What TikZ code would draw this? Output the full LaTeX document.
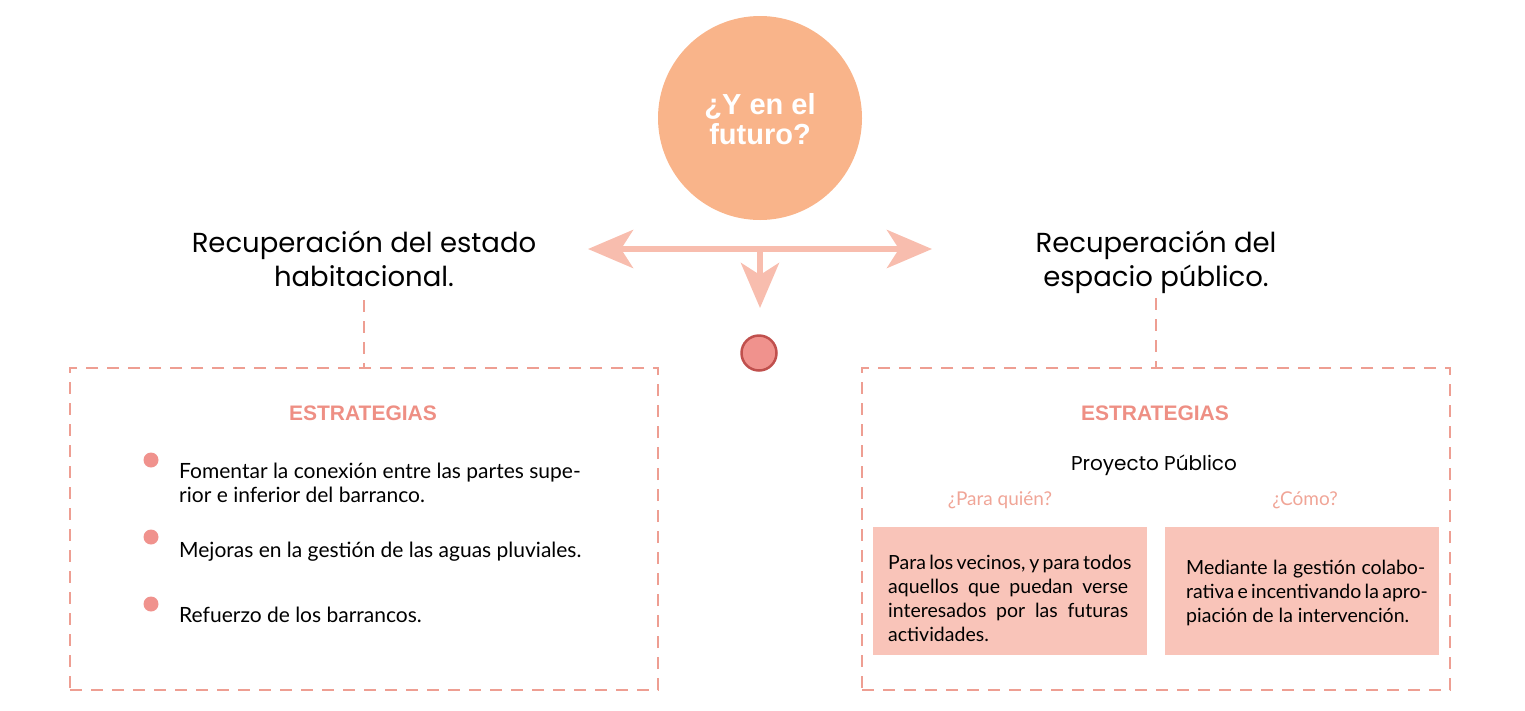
\documentclass[tikz,border=0pt]{standalone}
\usepackage{fontspec}
\setmainfont{Lato}
\newfontfamily\geofont{Poppins}
\newfontfamily\arialfont{Liberation Sans}
\usetikzlibrary{arrows.meta,calc}
\definecolor{peach}{HTML}{F9B48A}
\definecolor{arrowc}{HTML}{F8BDAE}
\definecolor{dashc}{HTML}{EE9E92}
\definecolor{headc}{HTML}{EE8F84}
\definecolor{dotfill}{HTML}{F0928D}
\definecolor{dotdraw}{HTML}{C0504D}
\definecolor{pinkbox}{HTML}{F9C4B9}
\definecolor{qcol}{HTML}{F0A597}
\tikzset{
  bigtip/.tip={Stealth[length=45pt,width=38pt,inset=12pt]},
  title/.style={font=\geofont\fontsize{27.5}{34}\selectfont, anchor=base, inner sep=0pt},
  dashbox/.style={draw=dashc, line width=2.8pt, dash pattern=on 12pt off 9pt, minimum width=588pt, minimum height=322pt, inner sep=0pt},
  dashlink/.style={draw=dashc, line width=2.8pt, dash pattern=on 12pt off 9pt},
  strat/.style={font=\arialfont\bfseries\fontsize{21}{24}\selectfont, text=headc, inner sep=0pt},
  bullet/.style={circle, fill=dotfill, minimum size=15pt, inner sep=0pt},
  item/.style={font=\fontsize{21}{23.5}\selectfont, align=left, anchor=base west, inner sep=0pt},
  fillbox/.style={fill=pinkbox, minimum width=274pt, minimum height=128pt, inner sep=0pt},
  boxtext/.style={font=\fontsize{19.5}{23.8}\selectfont, align=left, anchor=base west, inner sep=0pt},
  question/.style={font=\fontsize{19}{22}\selectfont, text=qcol, inner sep=0pt},
  bigarrow/.style={draw=arrowc, line width=6pt}
}
\begin{document}
\begin{tikzpicture}[x=1pt,y=-1pt]
\useasboundingbox (0,0) rectangle (1525,710);
% central circle
\node[circle, fill=peach, minimum size=204pt, inner sep=0pt] (main) at (760,118) {};
\node[font=\arialfont\bfseries\fontsize{29}{30.5}\selectfont, text=white, align=center, inner sep=0pt] (maintext) at (760,119) {¿Y en el\\futuro?};
% arrows
\coordinate (lefttip) at (588,249);
\coordinate (righttip) at (932,249);
\coordinate (downstart) at (760,252);
\coordinate (downtip) at (760,308);
\draw[bigarrow, bigtip-bigtip] (lefttip) -- (righttip);
\draw[bigarrow, -bigtip] (downstart) -- (downtip);
\node[circle, fill=dotfill, draw=dotdraw, line width=2.5pt, minimum size=35pt, inner sep=0pt] (dot) at (759,353) {};
% titles
\node[title] (ltitle1) at (364,252) {Recuperación del estado};
\node[title] (ltitle2) at (364,286) {habitacional.};
\node[title] (rtitle1) at (1156,252) {Recuperación del};
\node[title] (rtitle2) at (1156,286) {espacio público.};
% boxes
\node[dashbox] (lbox) at (364,529) {};
\node[dashbox] (rbox) at (1156,529) {};
\draw[dashlink] (364,300) -- (lbox.north);
\draw[dashlink] (1156,298) -- (rbox.north);
% left content
\node[strat] (lstrat) at (363,413) {ESTRATEGIAS};
\node[bullet] (b1) at (151,460) {};
\node[bullet] (b2) at (151,537) {};
\node[bullet] (b3) at (151,604) {};
\node[item] (i1) at (179,502) {Fomentar la conexión entre las partes supe-\\rior e inferior del barranco.};
\node[item] (i2) at (179,557) {Mejoras en la gestión de las aguas pluviales.};
\node[item] (i3) at (179,622) {Refuerzo de los barrancos.};
% right content
\node[strat] (rstrat) at (1155,413) {ESTRATEGIAS};
\node[font=\geofont\fontsize{20}{24}\selectfont, inner sep=0pt] (proj) at (1154,465) {Proyecto Público};
\node[question] (q1) at (1000,500) {¿Para quién?};
\node[question] (q2) at (1305,500) {¿Cómo?};
\node[fillbox] (fb1) at (1010,591) {};
\node[fillbox] (fb2) at (1301.5,591) {};
\node[boxtext] (t1) at (888,641) {\makebox[240pt][s]{Para los vecinos, y para todos}\\\makebox[240pt][s]{aquellos que puedan verse}\\\makebox[240pt][s]{interesados por las futuras}\\actividades.};
\node[boxtext] (t2) at (1186,622) {\makebox[239pt][s]{Mediante la gestión colabo-}\\\makebox[239pt][s]{rativa e incentivando la apro-}\\piación de la intervención.};
\end{tikzpicture}
\end{document}
